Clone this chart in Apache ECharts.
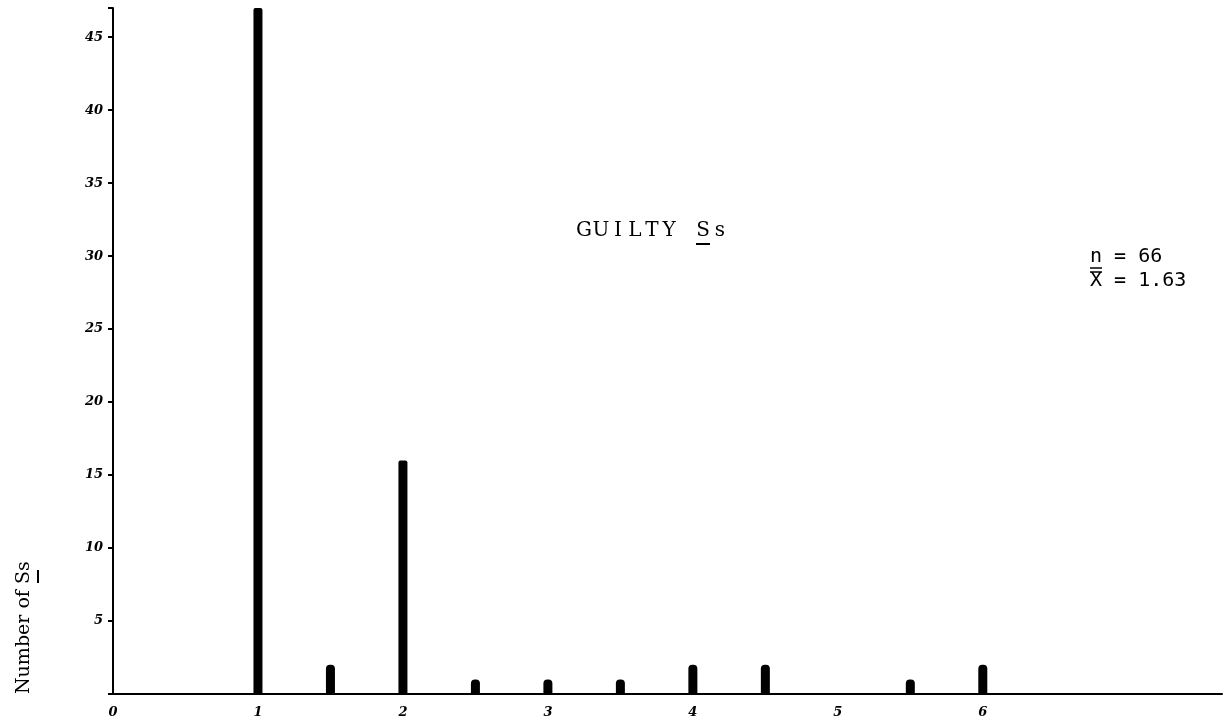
<!DOCTYPE html>
<html>
<head>
<meta charset="utf-8">
<script src="https://cdn.jsdelivr.net/npm/echarts@6/dist/echarts.min.js"></script>
<style>
html,body{margin:0;padding:0;background:#fff;}
#chart{width:1225px;height:726px;}
</style>
</head>
<body>
<div id="chart"></div>
<script>
// Data
const xValues = [1, 1.5, 2, 2.5, 3, 3.5, 4, 4.5, 5.5, 6];
const counts  = [47, 2, 16, 1, 1, 1, 2, 2, 1, 2];
const yTicks  = [5, 10, 15, 20, 25, 30, 35, 40, 45];
const xTicks  = [0, 1, 2, 3, 4, 5, 6];
const title   = 'GUILTY Ss';
const statN   = 'n = 66';
const statX   = 'X = 1.63';
const yName   = 'Number of Ss';

const chart = echarts.init(document.getElementById('chart'));
const barData = xValues.map((x, i) => ({
  value: [x, counts[i]],
  itemStyle: { borderRadius: counts[i] < 5 ? [4, 4, 0, 0] : [2, 2, 0, 0] }
}));
const handFont = { fontFamily: 'DejaVu Serif', fontStyle: 'italic', fontWeight: 'bold', fontSize: 13, color: '#000' };

// title drawn character by character to reproduce the wide typewriter spacing
const titleGraphics = title.split('').map((ch, i) => ({
  type: 'text', x: 584 + 17 * i, y: 231,
  style: { text: ch, font: '20px "DejaVu Serif"', fill: '#000', align: 'center', verticalAlign: 'middle' }
}));

chart.setOption({
  animation: false,
  backgroundColor: '#fff',
  grid: { left: 113, right: 0, top: 8, bottom: 32, containLabel: false },
  xAxis: {
    type: 'value', min: 0, max: 7.65, interval: 1,
    axisLine: { show: true, lineStyle: { color: '#000', width: 2 } },
    axisTick: { show: false },
    splitLine: { show: false },
    axisLabel: Object.assign({
      margin: 12,
      formatter: v => (xTicks.indexOf(v) >= 0 ? String(v) : '')
    }, handFont)
  },
  yAxis: {
    type: 'value', min: 0, max: 47, interval: 5,
    axisLine: { show: true, lineStyle: { color: '#000', width: 2 } },
    axisTick: { show: true, length: 5, lineStyle: { color: '#000', width: 2 } },
    splitLine: { show: false },
    axisLabel: Object.assign({
      margin: 10,
      formatter: v => (yTicks.indexOf(v) >= 0 ? String(v) : '')
    }, handFont)
  },
  series: [{
    type: 'bar',
    barWidth: 9,
    itemStyle: { color: '#000' },
    data: barData
  }],
  graphic: titleGraphics.concat([
    { type: 'line', shape: { x1: 696, y1: 244, x2: 710, y2: 244 }, style: { stroke: '#000', lineWidth: 2 } },
    { type: 'text', left: 1090, top: 247,
      style: { text: statN, font: '20px "DejaVu Sans Mono"', fill: '#000' } },
    { type: 'line', shape: { x1: 1090, y1: 268, x2: 1102, y2: 268 }, style: { stroke: '#000', lineWidth: 1.5 } },
    { type: 'line', shape: { x1: 1090, y1: 272, x2: 1102, y2: 272 }, style: { stroke: '#000', lineWidth: 1.5 } },
    { type: 'text', left: 1090, top: 271,
      style: { text: statX, font: '20px "DejaVu Sans Mono"', fill: '#000' } },
    { type: 'text', x: 15, y: 694, rotation: Math.PI / 2,
      style: { text: yName, font: '19px "DejaVu Serif"', fill: '#000', align: 'left', verticalAlign: 'top' } },
    { type: 'line', shape: { x1: 38, y1: 570, x2: 38, y2: 583 }, style: { stroke: '#000', lineWidth: 2 } }
  ])
});
</script>
</body>
</html>
